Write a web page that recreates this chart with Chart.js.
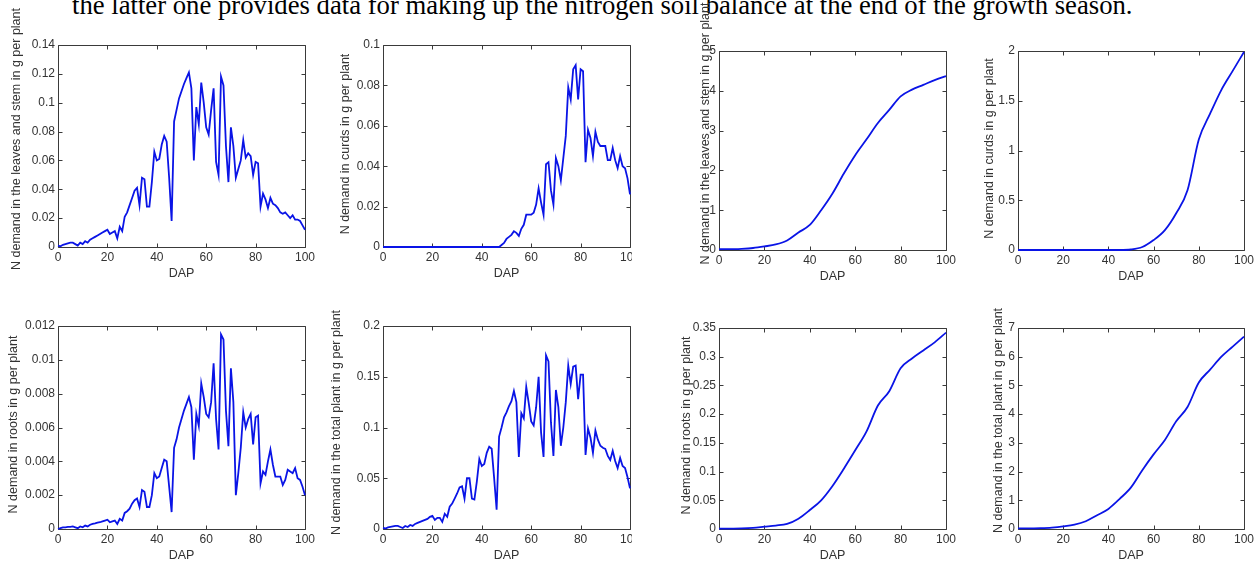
<!DOCTYPE html>
<html>
<head>
<meta charset="utf-8">
<script src="https://cdn.jsdelivr.net/npm/chart.js@4.4.1/dist/chart.umd.min.js"></script>
<style>
  html, body { margin: 0; padding: 0; background: #fff; }
  body { width: 1259px; height: 562px; position: relative; overflow: hidden; }
  canvas { position: absolute; }
  #caption {
    position: absolute; left: 72px; top: -8px;
    font-family: "Liberation Serif", "Times New Roman", serif;
    font-size: 26.7px; line-height: 26.7px; white-space: nowrap; color: #000;
  }
</style>
</head>
<body>
<div id="caption">the latter one provides data for making up the nitrogen soil balance at the end of the growth season.</div>
<script>
// days after planting, daily (jagged panels) and every 5 days (cumulative panels)
const dap = [0,1,2,3,4,5,6,7,8,9,10,11,12,13,14,15,16,17,18,19,20,21,22,23,24,25,26,27,28,29,30,
  31,32,33,34,35,36,37,38,39,40,41,42,43,44,45,46,47,48,49,50,51,52,53,54,55,56,57,58,59,60,
  61,62,63,64,65,66,67,68,69,70,71,72,73,74,75,76,77,78,79,80,81,82,83,84,85,86,87,88,89,90,
  91,92,93,94,95,96,97,98,99,100];
const dap5 = [0,5,10,15,20,25,30,35,40,45,50,55,60,65,70,75,80,85,90,95,100];

// daily N demand, g per plant
const leafDemand = [0.001,0.0005,0.0015,0.002,0.0025,0.003,0.003,0.002,0.001,0.003,
  0.002,0.004,0.003,0.005,0.006,0.007,0.008,0.009,0.010,0.011,
  0.012,0.009,0.010,0.011,0.006,0.014,0.011,0.021,0.024,0.029,
  0.034,0.039,0.041,0.029,0.048,0.047,0.028,0.028,0.045,0.066,
  0.060,0.061,0.071,0.077,0.073,0.048,0.018,0.087,0.095,0.103,
  0.108,0.113,0.117,0.121,0.110,0.060,0.097,0.085,0.114,0.100,
  0.083,0.078,0.095,0.110,0.059,0.050,0.118,0.112,0.070,0.045,
  0.083,0.070,0.048,0.054,0.060,0.074,0.062,0.065,0.063,0.050,
  0.059,0.058,0.028,0.037,0.033,0.027,0.034,0.030,0.029,0.027,
  0.024,0.023,0.024,0.022,0.020,0.022,0.019,0.019,0.018,0.015,
  0.012];
const curdDemand = [0,0,0,0,0,0,0,0,0,0,
  0,0,0,0,0,0,0,0,0,0,
  0,0,0,0,0,0,0,0,0,0,
  0,0,0,0,0,0,0,0,0,0,
  0,0,0,0,0,0,0,0,0.001,0.002,
  0.004,0.005,0.006,0.0078,0.007,0.0055,0.009,0.011,0.016,0.016,
  0.016,0.017,0.021,0.029,0.022,0.016,0.041,0.042,0.028,0.021,
  0.044,0.040,0.033,0.044,0.055,0.079,0.073,0.088,0.090,0.073,
  0.088,0.087,0.042,0.058,0.054,0.045,0.057,0.052,0.050,0.050,
  0.050,0.043,0.043,0.049,0.043,0.039,0.045,0.040,0.039,0.034,
  0.026];
const rootDemand = [0,0.00005,0.0001,0.0001,0.00012,0.00013,0.00015,0.0001,0.00005,0.00015,
  0.0001,0.0002,0.00015,0.00025,0.0003,0.00033,0.00037,0.0004,0.00045,0.0005,
  0.00055,0.0004,0.00045,0.0005,0.0003,0.0006,0.0005,0.00095,0.00105,0.0012,
  0.0015,0.0017,0.0018,0.0013,0.0023,0.0022,0.0013,0.0013,0.002,0.0033,
  0.003,0.0031,0.0036,0.0041,0.004,0.0025,0.001,0.0048,0.0053,0.006,
  0.0065,0.007,0.0074,0.0078,0.0072,0.0041,0.0068,0.0061,0.0086,0.0078,
  0.0068,0.0066,0.0075,0.0098,0.0065,0.0047,0.0115,0.0112,0.007,0.0049,
  0.0095,0.0075,0.002,0.0033,0.0048,0.0069,0.006,0.0065,0.0068,0.005,
  0.0066,0.0067,0.0027,0.0034,0.0032,0.004,0.0047,0.0038,0.0031,0.0031,
  0.0031,0.0026,0.0029,0.0035,0.0034,0.0033,0.0036,0.003,0.0029,0.0025,
  0.002];
const totalDemand = [0.001,0.0005,0.0015,0.002,0.0025,0.003,0.003,0.002,0.001,0.003,
  0.002,0.004,0.003,0.005,0.006,0.007,0.008,0.009,0.010,0.012,
  0.013,0.009,0.011,0.011,0.007,0.015,0.012,0.022,0.025,0.030,
  0.035,0.041,0.042,0.030,0.050,0.050,0.030,0.029,0.047,0.069,
  0.062,0.064,0.075,0.081,0.079,0.050,0.019,0.091,0.100,0.110,
  0.115,0.121,0.126,0.136,0.125,0.071,0.114,0.109,0.140,0.124,
  0.106,0.102,0.120,0.150,0.095,0.071,0.171,0.165,0.105,0.072,
  0.137,0.120,0.082,0.100,0.125,0.161,0.143,0.160,0.161,0.128,
  0.152,0.152,0.073,0.099,0.090,0.075,0.097,0.088,0.082,0.080,
  0.079,0.072,0.068,0.077,0.067,0.060,0.070,0.062,0.060,0.051,
  0.040];

// cumulative N demand, g per plant
const leafCum  = [0.02,0.02,0.03,0.05,0.09,0.14,0.24,0.44,0.63,1.0,1.42,1.92,2.38,2.78,3.19,3.52,3.86,4.03,4.15,4.27,4.37];
const curdCum  = [0,0,0,0,0,0,0,0,0,0,0.005,0.03,0.1,0.2,0.37,0.6,1.11,1.37,1.61,1.8,1.99];
const rootCum  = [0.0005,0.0007,0.001,0.002,0.004,0.006,0.009,0.018,0.033,0.05,0.075,0.105,0.137,0.17,0.215,0.24,0.28,0.297,0.311,0.325,0.342];
const totalCum = [0.02,0.02,0.03,0.05,0.09,0.15,0.27,0.48,0.7,1.05,1.45,2.05,2.6,3.1,3.75,4.25,5.1,5.55,6.0,6.35,6.7];

// axis ticks
const xTicks = [0, 20, 40, 60, 80, 100];
const yTicksLeaf = [0, 0.02, 0.04, 0.06, 0.08, 0.1, 0.12, 0.14];
const yTicksCurd = [0, 0.02, 0.04, 0.06, 0.08, 0.1];
const yTicksRoot = [0, 0.002, 0.004, 0.006, 0.008, 0.01, 0.012];
const yTicksTotal = [0, 0.05, 0.1, 0.15, 0.2];
const yTicksLeafCum = [0, 1, 2, 3, 4, 5];
const yTicksCurdCum = [0, 0.5, 1, 1.5, 2];
const yTicksRootCum = [0, 0.05, 0.1, 0.15, 0.2, 0.25, 0.3, 0.35];
const yTicksTotalCum = [0, 1, 2, 3, 4, 5, 6, 7];

const LINE_COLOR = '#0a14e6';
const AXIS_COLOR = '#3a3a3a';
const TEXT_COLOR = '#333333';
const FONT = '"Liberation Sans", Arial, sans-serif';
const TICK_SIZE = 12;
const TITLE_SIZE = 12.5;
const TICK_LEN = 4;

// box = plot frame [left, top, right, bottom] in page pixels;
// gap = y-title centre to frame, shift = y-title offset from frame middle
const panels = [
  {labels: dap, data: leafDemand, yTicks: yTicksLeaf, title: 'N demand in the leaves and stem in g per plant', box: [58, 45, 305, 247], gap: 41, shift: -7, row: 0},
  {labels: dap, data: curdDemand, yTicks: yTicksCurd, title: 'N demand in curds in g per plant', box: [383, 45, 630, 247], gap: 37, shift: -2, row: 0, clipRight: 632},
  {labels: dap5, data: leafCum, yTicks: yTicksLeafCum, title: 'N demand in the leaves and stem in g per plant', box: [719, 51, 946, 250], gap: 13, shift: -17, row: 0, smooth: true},
  {labels: dap5, data: curdCum, yTicks: yTicksCurdCum, title: 'N demand in curds in g per plant', box: [1018, 51, 1244, 250], gap: 28, shift: -2, row: 0, smooth: true},
  {labels: dap, data: rootDemand, yTicks: yTicksRoot, title: 'N demand in roots in g per plant', box: [58, 326, 305, 529], gap: 44, shift: -3, row: 1},
  {labels: dap, data: totalDemand, yTicks: yTicksTotal, title: 'N demand in the total plant in g per plant', box: [383, 326, 630, 529], gap: 46, shift: -5, row: 1, clipRight: 632},
  {labels: dap5, data: rootCum, yTicks: yTicksRootCum, title: 'N demand in roots in g per plant', box: [719, 328, 946, 529], gap: 32, shift: -3, row: 1, smooth: true},
  {labels: dap5, data: totalCum, yTicks: yTicksTotalCum, title: 'N demand in the total plant in g per plant', box: [1018, 328, 1244, 529], gap: 19, shift: -8, row: 1, smooth: true}
];

// MATLAB-like box with inward ticks on all four sides
const boxAndTicks = {
  id: 'boxAndTicks',
  beforeDatasetsDraw(chart) {
    const {ctx, chartArea: a, scales} = chart;
    const L = Math.round(a.left) + 0.5, R = Math.round(a.right) + 0.5;
    const T = Math.round(a.top) + 0.5, B = Math.round(a.bottom) + 0.5;
    ctx.save();
    ctx.strokeStyle = AXIS_COLOR;
    ctx.lineWidth = 1;
    ctx.beginPath();
    ctx.rect(L, T, R - L, B - T);
    scales.x.ticks.forEach(tk => {
      const px = Math.round(scales.x.getPixelForValue(tk.value)) + 0.5;
      ctx.moveTo(px, B); ctx.lineTo(px, B - TICK_LEN);
      ctx.moveTo(px, T); ctx.lineTo(px, T + TICK_LEN);
    });
    scales.y.ticks.forEach(tk => {
      const py = Math.round(scales.y.getPixelForValue(tk.value)) + 0.5;
      ctx.moveTo(L, py); ctx.lineTo(L + TICK_LEN, py);
      ctx.moveTo(R, py); ctx.lineTo(R - TICK_LEN, py);
    });
    ctx.stroke();
    ctx.restore();
  }
};

// rotated y-axis label, placed relative to the plot frame
const yTitle = {
  id: 'yTitle',
  afterDraw(chart, args, opts) {
    const {ctx, chartArea: a} = chart;
    ctx.save();
    ctx.translate(a.left - opts.gap, (a.top + a.bottom) / 2 + opts.shift);
    ctx.rotate(-Math.PI / 2);
    ctx.font = TITLE_SIZE + 'px ' + FONT;
    ctx.fillStyle = TEXT_COLOR;
    ctx.textAlign = 'center';
    ctx.textBaseline = 'middle';
    ctx.fillText(opts.text, 0, 0);
    ctx.restore();
  }
};

function drawPanel(p) {
  const [l, t, r, b] = p.box;
  const yW = Math.round(p.gap + 8);
  const xH = 33;
  const padR = p.clipRight ? p.clipRight - r : 12;
  const canvasTop = p.row === 0 ? 0 : 292;
  const w = yW + (r - l) + padR;
  const h = (b - canvasTop) + xH + 2;

  const cv = document.createElement('canvas');
  cv.width = w; cv.height = h;
  cv.style.left = (l - yW) + 'px';
  cv.style.top = canvasTop + 'px';
  cv.style.width = w + 'px';
  cv.style.height = h + 'px';
  document.body.appendChild(cv);

  new Chart(cv, {
    type: 'line',
    data: {
      labels: p.labels,
      datasets: [{
        data: p.data,
        borderColor: LINE_COLOR,
        borderWidth: 1.8,
        pointRadius: 0,
        tension: 0,
        cubicInterpolationMode: p.smooth ? 'monotone' : 'default',
        clip: 4
      }]
    },
    options: {
      responsive: false,
      animation: false,
      layout: {padding: {left: 0, top: t - canvasTop, right: padR, bottom: 2}},
      plugins: {
        legend: {display: false},
        tooltip: {enabled: false},
        yTitle: {text: p.title, gap: p.gap, shift: p.shift}
      },
      scales: {
        x: {
          type: 'linear', min: 0, max: 100,
          grid: {display: false, drawTicks: false},
          border: {display: false},
          afterBuildTicks: s => { s.ticks = xTicks.map(v => ({value: v})); },
          afterFit: s => { s.height = xH; s.paddingLeft = 0; s.paddingRight = 0; },
          ticks: {color: TEXT_COLOR, font: {family: FONT, size: TICK_SIZE}, padding: 3,
                  maxRotation: 0, autoSkip: false, callback: v => String(v)},
          title: {display: true, text: 'DAP', color: TEXT_COLOR,
                  font: {family: FONT, size: 12.5, lineHeight: 1}, padding: 0}
        },
        y: {
          type: 'linear', min: 0, max: p.yTicks[p.yTicks.length - 1],
          grid: {display: false, drawTicks: false},
          border: {display: false},
          afterBuildTicks: s => { s.ticks = p.yTicks.map(v => ({value: v})); },
          afterFit: s => { s.width = yW; s.paddingTop = 0; s.paddingBottom = 0; },
          ticks: {color: TEXT_COLOR, font: {family: FONT, size: TICK_SIZE}, padding: 3,
                  autoSkip: false, callback: v => String(v)}
        }
      }
    },
    plugins: [boxAndTicks, yTitle]
  });
}

panels.forEach(drawPanel);
</script>
</body>
</html>
